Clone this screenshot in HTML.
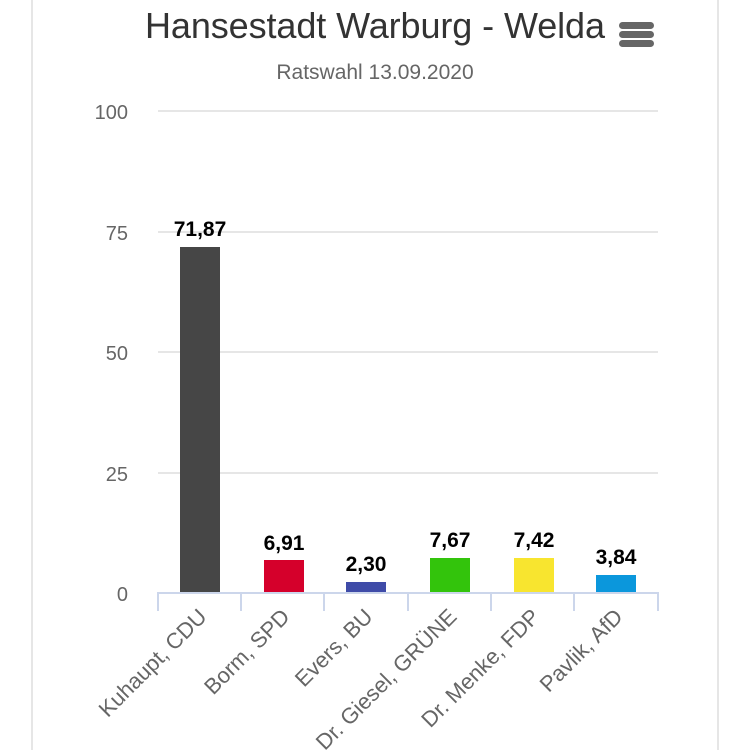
<!DOCTYPE html>
<html><head><meta charset="utf-8"><style>
body{margin:0;background:#fff;}
svg{display:block;font-family:"Liberation Sans",sans-serif;}
</style></head><body>
<svg width="750" height="750" xmlns="http://www.w3.org/2000/svg">
<rect width="750" height="750" fill="#fff"/>
<line x1="32" y1="0" x2="32" y2="750" stroke="#e6e6e6" stroke-width="2"/>
<line x1="718" y1="0" x2="718" y2="750" stroke="#e6e6e6" stroke-width="2"/>
<text x="375" y="38" text-anchor="middle" font-size="36" fill="#333" textLength="460">Hansestadt Warburg - Welda</text>
<g fill="#666"><rect x="619" y="22" width="35" height="7" rx="3.5"/><rect x="619" y="31" width="35" height="7" rx="3.5"/><rect x="619" y="40" width="35" height="7" rx="3.5"/></g>
<text x="375" y="79" text-anchor="middle" font-size="21" fill="#666">Ratswahl 13.09.2020</text>
<g stroke="#e6e6e6" stroke-width="2">
<line x1="158" y1="111" x2="658" y2="111"/>
<line x1="158" y1="232" x2="658" y2="232"/>
<line x1="158" y1="352" x2="658" y2="352"/>
<line x1="158" y1="473" x2="658" y2="473"/>
</g>
<g font-size="20" fill="#666" text-anchor="end">
<text x="128" y="119">100</text><text x="128" y="240">75</text><text x="128" y="360">50</text><text x="128" y="481">25</text><text x="128" y="601">0</text>
</g>
<rect x="180" y="247" width="40" height="346" fill="#464646"/>
<rect x="264" y="560" width="40" height="33" fill="#d5002b"/>
<rect x="346" y="582" width="40" height="11" fill="#3f4ba8"/>
<rect x="430" y="558" width="40" height="35" fill="#33c40c"/>
<rect x="514" y="558" width="40" height="35" fill="#f8e52f"/>
<rect x="596" y="575" width="40" height="18" fill="#0b97dc"/>
<g font-size="21" font-weight="bold" fill="#000" text-anchor="middle">
<text x="200" y="236">71,87</text><text x="284" y="550">6,91</text><text x="366" y="571">2,30</text>
<text x="450" y="547">7,67</text><text x="534" y="547">7,42</text><text x="616" y="564">3,84</text>
</g>
<g stroke="#ccd6eb" stroke-width="2">
<line x1="157" y1="593" x2="659" y2="593"/>
<line x1="158" y1="593" x2="158" y2="611"/><line x1="241" y1="593" x2="241" y2="611"/>
<line x1="324" y1="593" x2="324" y2="611"/><line x1="408" y1="593" x2="408" y2="611"/>
<line x1="491" y1="593" x2="491" y2="611"/><line x1="574" y1="593" x2="574" y2="611"/>
<line x1="658" y1="593" x2="658" y2="611"/>
</g>
<g font-size="22" fill="#666" text-anchor="end">
<text transform="translate(208,618) rotate(-45)">Kuhaupt, CDU</text>
<text transform="translate(291,618) rotate(-45)">Borm, SPD</text>
<text transform="translate(374,618) rotate(-45)">Evers, BU</text>
<text transform="translate(458,618) rotate(-45)">Dr. Giesel, GRÜNE</text>
<text transform="translate(541,618) rotate(-45)">Dr. Menke, FDP</text>
<text transform="translate(624,618) rotate(-45)">Pavlik, AfD</text>
</g>
</svg>
</body></html>
